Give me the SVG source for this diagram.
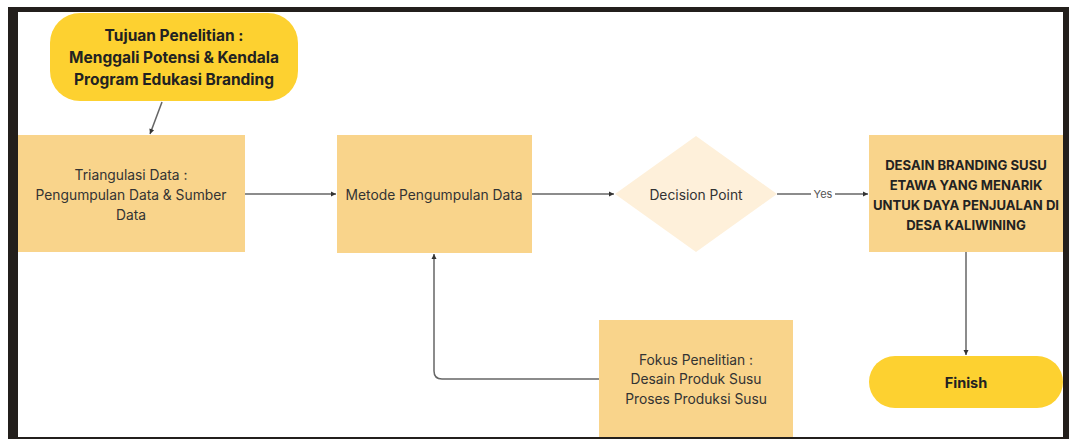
<svg xmlns="http://www.w3.org/2000/svg" width="1069" height="439" viewBox="0 0 1069 439">
<defs>
<style>
.box{fill:#F9D48B;}
.pill{fill:#FDD130;}
.dia{fill:#FEF0DA;}
.t{font-family:Inter,"Noto Sans",sans-serif;font-size:13.8px;fill:#333;text-anchor:middle;dominant-baseline:central;}
.b{font-family:Inter,"Noto Sans",sans-serif;font-weight:700;fill:#222;text-anchor:middle;dominant-baseline:central;}
.c{fill:none;stroke:#666;stroke-width:1.5;}
</style>
<marker id="ah" markerWidth="8" markerHeight="8" refX="6" refY="4" orient="auto" markerUnits="userSpaceOnUse">
<path d="M1,1.5 L6,4 L1,6.5 Z" fill="#333"/>
</marker>
</defs>
<rect x="0" y="0" width="1069" height="439" fill="#fff"/>
<rect x="8" y="7" width="1061" height="432" fill="#231f1c"/>
<rect x="18" y="12" width="1045" height="425" fill="#fff"/>
<g id="connectors">
<path class="c" d="M162,102 L150,134" marker-end="url(#ah)"/>
<path class="c" d="M245,194 L336,194" marker-end="url(#ah)"/>
<path class="c" d="M532,194 L614,194" marker-end="url(#ah)"/>
<path class="c" d="M777,194 L868,194" marker-end="url(#ah)"/>
<rect x="811" y="186" width="24" height="16" fill="#fff"/>
<text x="823" y="194" class="t" style="font-size:11px;fill:#555">Yes</text>
<path class="c" d="M966,252 L966,355" marker-end="url(#ah)"/>
<path class="c" d="M599,379 L442,379 Q434,379 434,371 L434,254" marker-end="url(#ah)"/>
</g>
<g id="tujuan">
<rect class="pill" x="50" y="13" width="248" height="88" rx="30"/>
<text class="b" style="font-size:15.5px" x="174" y="35">Tujuan Penelitian :</text>
<text class="b" style="font-size:15.5px" x="174" y="57">Menggali Potensi &amp; Kendala</text>
<text class="b" style="font-size:15.5px" x="174" y="79">Program Edukasi Branding</text>
</g>
<g id="triangulasi">
<rect class="box" x="18" y="135" width="227" height="117"/>
<text class="t" x="131" y="175">Triangulasi Data :</text>
<text class="t" x="131" y="195">Pengumpulan Data &amp; Sumber</text>
<text class="t" x="131" y="215">Data</text>
</g>
<g id="metode">
<rect class="box" x="337" y="135" width="195" height="118"/>
<text class="t" x="434" y="195">Metode Pengumpulan Data</text>
</g>
<g id="decision">
<path class="dia" d="M696,136 L777,194 L696,252 L615,194 Z"/>
<text class="t" x="696" y="195">Decision Point</text>
</g>
<g id="desain">
<rect class="box" x="869" y="135" width="194" height="117"/>
<text class="b" style="font-size:13.1px" x="966" y="165">DESAIN BRANDING SUSU</text>
<text class="b" style="font-size:13.1px" x="966" y="185">ETAWA YANG MENARIK</text>
<text class="b" style="font-size:13.1px" x="966" y="205">UNTUK DAYA PENJUALAN DI</text>
<text class="b" style="font-size:13.1px" x="966" y="225">DESA KALIWINING</text>
</g>
<g id="fokus">
<rect class="box" x="599" y="320" width="194" height="117"/>
<text class="t" x="696" y="360">Fokus Penelitian :</text>
<text class="t" x="696" y="379">Desain Produk Susu</text>
<text class="t" x="696" y="399">Proses Produksi Susu</text>
</g>
<g id="finish">
<rect class="pill" x="869" y="356" width="194" height="52" rx="26"/>
<text class="b" style="font-size:14.5px" x="966" y="382">Finish</text>
</g>
</svg>
